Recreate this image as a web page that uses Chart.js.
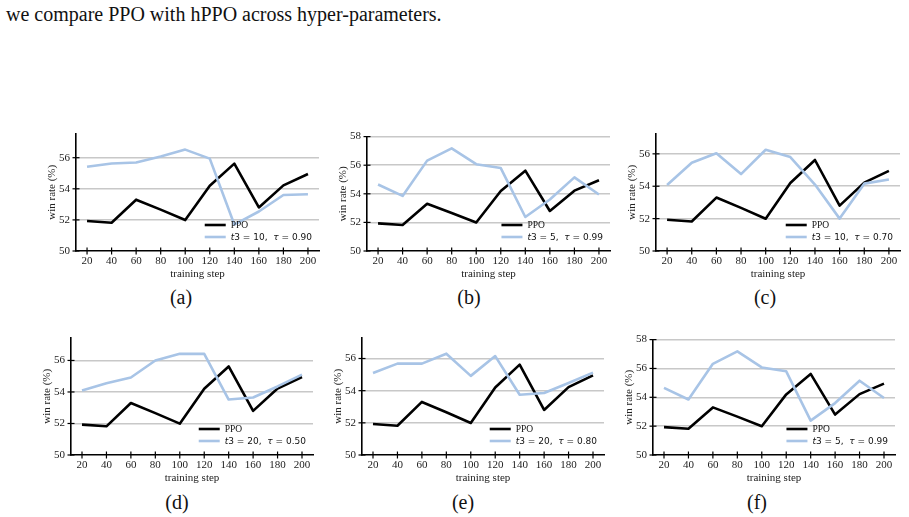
<!DOCTYPE html>
<html>
<head>
<meta charset="utf-8">
<script src="https://cdn.jsdelivr.net/npm/chart.js@4.4.1/dist/chart.umd.min.js"></script>
<style>
  body { margin: 0; width: 909px; height: 517px; background: #fff; position: relative; overflow: hidden; font-family: "Liberation Serif", serif; }
  .head { position: absolute; left: 6px; top: 4px; font-size: 20px; line-height: 20px; color: #111; white-space: nowrap; }
  .cap { position: absolute; font-size: 20px; line-height: 20px; width: 60px; margin-left: -30px; text-align: center; color: #111; }
  canvas { position: absolute; }
</style>
</head>
<body>
<div class="head">we compare PPO with hPPO across hyper-parameters.</div>
<script>
// data
const steps = [20, 40, 60, 80, 100, 120, 140, 160, 180, 200];
const ppo = [51.93, 51.82, 53.3, 52.66, 51.99, 54.2, 55.62, 52.8, 54.22, 54.95];
const hppoA = [55.42, 55.63, 55.69, 56.08, 56.52, 55.94, 51.7, 52.54, 53.6, 53.65];
const hppoB = [54.65, 53.85, 56.32, 57.18, 56.07, 55.8, 52.38, 53.6, 55.15, 53.95];
const hppoC = [54.08, 55.45, 56.04, 54.75, 56.25, 55.8, 54.1, 52.0, 54.16, 54.42];
const hppoD = [54.1, 54.55, 54.92, 56.0, 56.42, 56.42, 53.52, 53.65, 54.35, 55.1];
const hppoE = [55.1, 55.68, 55.68, 56.3, 54.92, 56.15, 53.75, 53.86, 54.48, 55.12];
const hppoF = [54.65, 53.85, 56.32, 57.18, 56.07, 55.8, 52.38, 53.6, 55.15, 53.95];
const t3Values = [10, 5, 10, 20, 20, 5];
const tauValues = ["0.90", "0.99", "0.70", "0.50", "0.80", "0.99"];
const captions = ["(a)", "(b)", "(c)", "(d)", "(e)", "(f)"];
const yTicksShort = [50, 52, 54, 56];
const yTicksTall = [50, 52, 54, 56, 58];

const hppoSeries = [hppoA, hppoB, hppoC, hppoD, hppoE, hppoF];
const yMaxes = [57.55, 58, 57.25, 57.45, 57.3, 58];

// layout of plot areas (pixels on page)
const boxes = [
  { l: 76, r: 319, t: 129, b: 251 },
  { l: 367, r: 610, t: 132, b: 251 },
  { l: 656, r: 900, t: 129, b: 251 },
  { l: 71, r: 313, t: 333, b: 455 },
  { l: 362, r: 604, t: 333, b: 455 },
  { l: 653, r: 895, t: 335, b: 455 },
];
const capPos = [[181, 287], [469, 287], [765, 287], [177, 492], [463, 492], [757, 492]];

const YW = 30, XH = 32, PT = 8, PR = 4;
const BLUE = "#a8c4e6";
const serif = "Liberation Serif";

const decor = {
  id: "decor",
  afterDraw(chart, args, opts) {
    const ctx = chart.ctx, a = chart.chartArea;
    const xs = chart.scales.x, ys = chart.scales.y;
    ctx.save();
    ctx.strokeStyle = "#000";
    ctx.lineWidth = 1.2;
    xs.ticks.forEach(t => {
      const px = xs.getPixelForValue(t.value);
      ctx.beginPath(); ctx.moveTo(px, a.bottom - 3.5); ctx.lineTo(px, a.bottom + 3.5); ctx.stroke();
    });
    ys.ticks.forEach(t => {
      const py = ys.getPixelForValue(t.value);
      ctx.beginPath(); ctx.moveTo(a.left - 3.5, py); ctx.lineTo(a.left + 3.5, py); ctx.stroke();
    });

    // legend, lower right inside the axes
    const segs = [
      { s: "t", it: true }, { s: "3 = " + opts.t3 + ",  " }, { s: "τ", it: true }, { s: " = " + opts.tau },
    ];
    const f = it => (it ? "italic " : "") + "9px 'DejaVu Sans'";
    let w2 = 0;
    segs.forEach(g => { ctx.font = f(g.it); g.w = ctx.measureText(g.s).width; w2 += g.w; });
    ctx.font = "9.5px '" + serif + "'";
    const w1 = ctx.measureText("PPO").width;
    const tx = a.right - 7 - Math.max(w1, w2);
    const lx = tx - 5 - 21;
    const y1 = a.bottom - 26, y2 = a.bottom - 14;
    ctx.lineWidth = 2.6;
    ctx.strokeStyle = "#000";
    ctx.beginPath(); ctx.moveTo(lx, y1); ctx.lineTo(lx + 21, y1); ctx.stroke();
    ctx.strokeStyle = BLUE;
    ctx.beginPath(); ctx.moveTo(lx, y2); ctx.lineTo(lx + 21, y2); ctx.stroke();
    ctx.fillStyle = "#111";
    ctx.textBaseline = "middle";
    ctx.fillText("PPO", tx, y1 + 0.5);
    let cx = tx;
    segs.forEach(g => { ctx.font = f(g.it); ctx.fillText(g.s, cx, y2 + 0.5); cx += g.w; });
    ctx.restore();
  }
};

boxes.forEach((bx, i) => {
  const cv = document.createElement("canvas");
  const W = bx.r - bx.l + YW + PR, H = bx.b - bx.t + PT + XH;
  cv.width = W; cv.height = H;
  cv.style.left = (bx.l - YW) + "px";
  cv.style.top = (bx.t - PT) + "px";
  cv.style.width = W + "px"; cv.style.height = H + "px";
  document.body.appendChild(cv);

  const yt = yMaxes[i] >= 58 ? yTicksTall : yTicksShort;

  new Chart(cv.getContext("2d"), {
    type: "line",
    data: {
      datasets: [
        {
          label: "PPO",
          data: steps.map((s, k) => ({ x: s, y: ppo[k] })),
          borderColor: "#000", borderWidth: 2.6, pointRadius: 0, order: 1,
          borderJoinStyle: "round",
        },
        {
          label: "t3 = " + t3Values[i] + ", τ = " + tauValues[i],
          data: steps.map((s, k) => ({ x: s, y: hppoSeries[i][k] })),
          borderColor: BLUE, borderWidth: 2.6, pointRadius: 0, order: 0,
          borderJoinStyle: "round",
        },
      ],
    },
    options: {
      responsive: false,
      animation: false,
      devicePixelRatio: 1,
      layout: { padding: { top: PT, right: PR, left: 0, bottom: 0 } },
      plugins: {
        legend: { display: false },
        tooltip: { enabled: false },
        decor: { t3: t3Values[i], tau: tauValues[i] },
      },
      scales: {
        x: {
          type: "linear",
          min: 11, max: 209,
          afterBuildTicks: s => { s.ticks = steps.map(v => ({ value: v })); },
          afterFit: s => { s.height = XH; },
          grid: { drawOnChartArea: false, drawTicks: false },
          border: { display: true, color: "#000", width: 1.6 },
          ticks: { color: "#222", font: { family: serif, size: 11 }, padding: 4, maxRotation: 0 },
          title: { display: true, text: "training step", color: "#222", font: { family: serif, size: 11 }, padding: { top: 0, bottom: 2 } },
        },
        y: {
          min: 50, max: yMaxes[i],
          afterBuildTicks: s => { s.ticks = yt.map(v => ({ value: v })); },
          afterFit: s => { s.width = YW; },
          grid: {
            drawTicks: false, lineWidth: 1.5,
            color: c => (c.tick && c.tick.value === 50 ? "rgba(0,0,0,0)" : "#c8c8c8"),
          },
          border: { display: true, color: "#000", width: 1.6 },
          ticks: { color: "#222", font: { family: serif, size: 11 }, padding: 6 },
          title: { display: true, text: "win rate (%)", color: "#222", font: { family: serif, size: 11 }, padding: { top: 0, bottom: 0 } },
        },
      },
    },
    plugins: [decor],
  });

  const cap = document.createElement("div");
  cap.className = "cap";
  cap.textContent = captions[i];
  cap.style.left = capPos[i][0] + "px";
  cap.style.top = capPos[i][1] + "px";
  document.body.appendChild(cap);
});
</script>
</body>
</html>
